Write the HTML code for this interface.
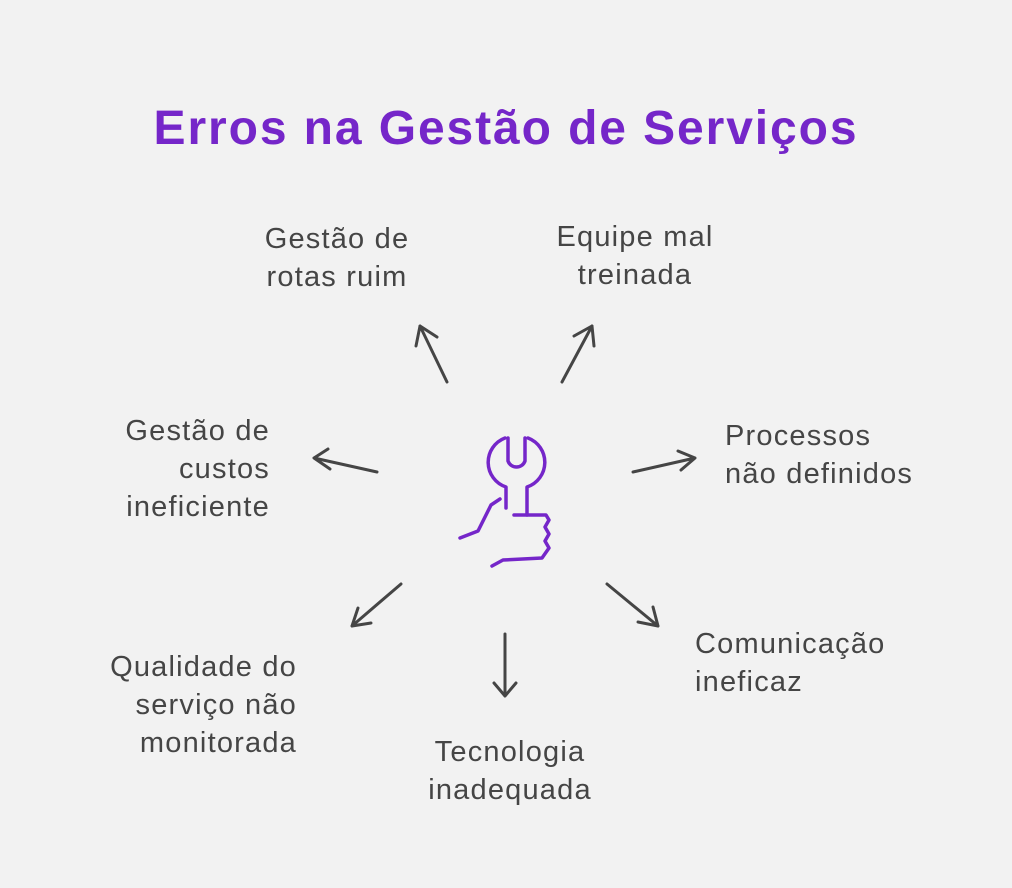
<!DOCTYPE html>
<html><head><style>
body{margin:0;width:1012px;height:888px;background:#f2f2f2;font-family:"Liberation Sans",sans-serif;position:relative;overflow:hidden}
.t{position:absolute;color:#454545;font-size:29px;line-height:38px;letter-spacing:1.2px;white-space:nowrap}
h1{position:absolute;top:101px;left:0;width:1012px;margin:0;text-align:center;color:#7526c9;font-size:48px;font-weight:bold;letter-spacing:1.9px}
</style></head><body>
<h1>Erros na Gestão de Serviços</h1>
<div class="t" style="left:222px;top:220px;width:230px;text-align:center">Gestão de<br>rotas ruim</div>
<div class="t" style="left:520px;top:218px;width:230px;text-align:center">Equipe mal<br>treinada</div>
<div class="t" style="left:725px;top:417px">Processos<br>não definidos</div>
<div class="t" style="left:30px;top:412px;width:240px;text-align:right">Gestão de<br>custos<br>ineficiente</div>
<div class="t" style="left:695px;top:625px">Comunicação<br>ineficaz</div>
<div class="t" style="left:20px;top:648px;width:277px;text-align:right">Qualidade do<br>serviço não<br>monitorada</div>
<div class="t" style="left:390px;top:733px;width:240px;text-align:center">Tecnologia<br>inadequada</div>
<svg width="1012" height="888" style="position:absolute;left:0;top:0">
<g stroke="#454545" stroke-width="3" fill="none" stroke-linecap="round" stroke-linejoin="round">
<path d="M447 382L420 326M416 346L420 326L437 337"/>
<path d="M562 382L592 326M574 336L592 326L594 346"/>
<path d="M633 472L695 458M678 451L695 458L681 470"/>
<path d="M377 472L314 458M328 449L314 458L330 469"/>
<path d="M401 584L352 626M358 608L352 626L371 623"/>
<path d="M505 634L505 696M494 683L505 696L516 683"/>
<path d="M607 584L658 626M638 622L658 626L653 607"/>
</g>
<g stroke="#7526c9" stroke-width="3.5" fill="none" stroke-linecap="round" stroke-linejoin="round">
<path d="M505 438A26 26 0 0 0 506 487L506 508"/>
<path d="M508 438L508 461A9 9 0 0 0 525 461L525 438"/>
<path d="M528 438A26 26 0 0 1 527 487L527 515"/>
<path d="M460 538L478 531L491 505L500 499"/>
<path d="M514 515L546 515L549 520L545 527L549 534L545 541L549 548L542 558L503 560L492 566"/>
</g>
</svg>
</body></html>
